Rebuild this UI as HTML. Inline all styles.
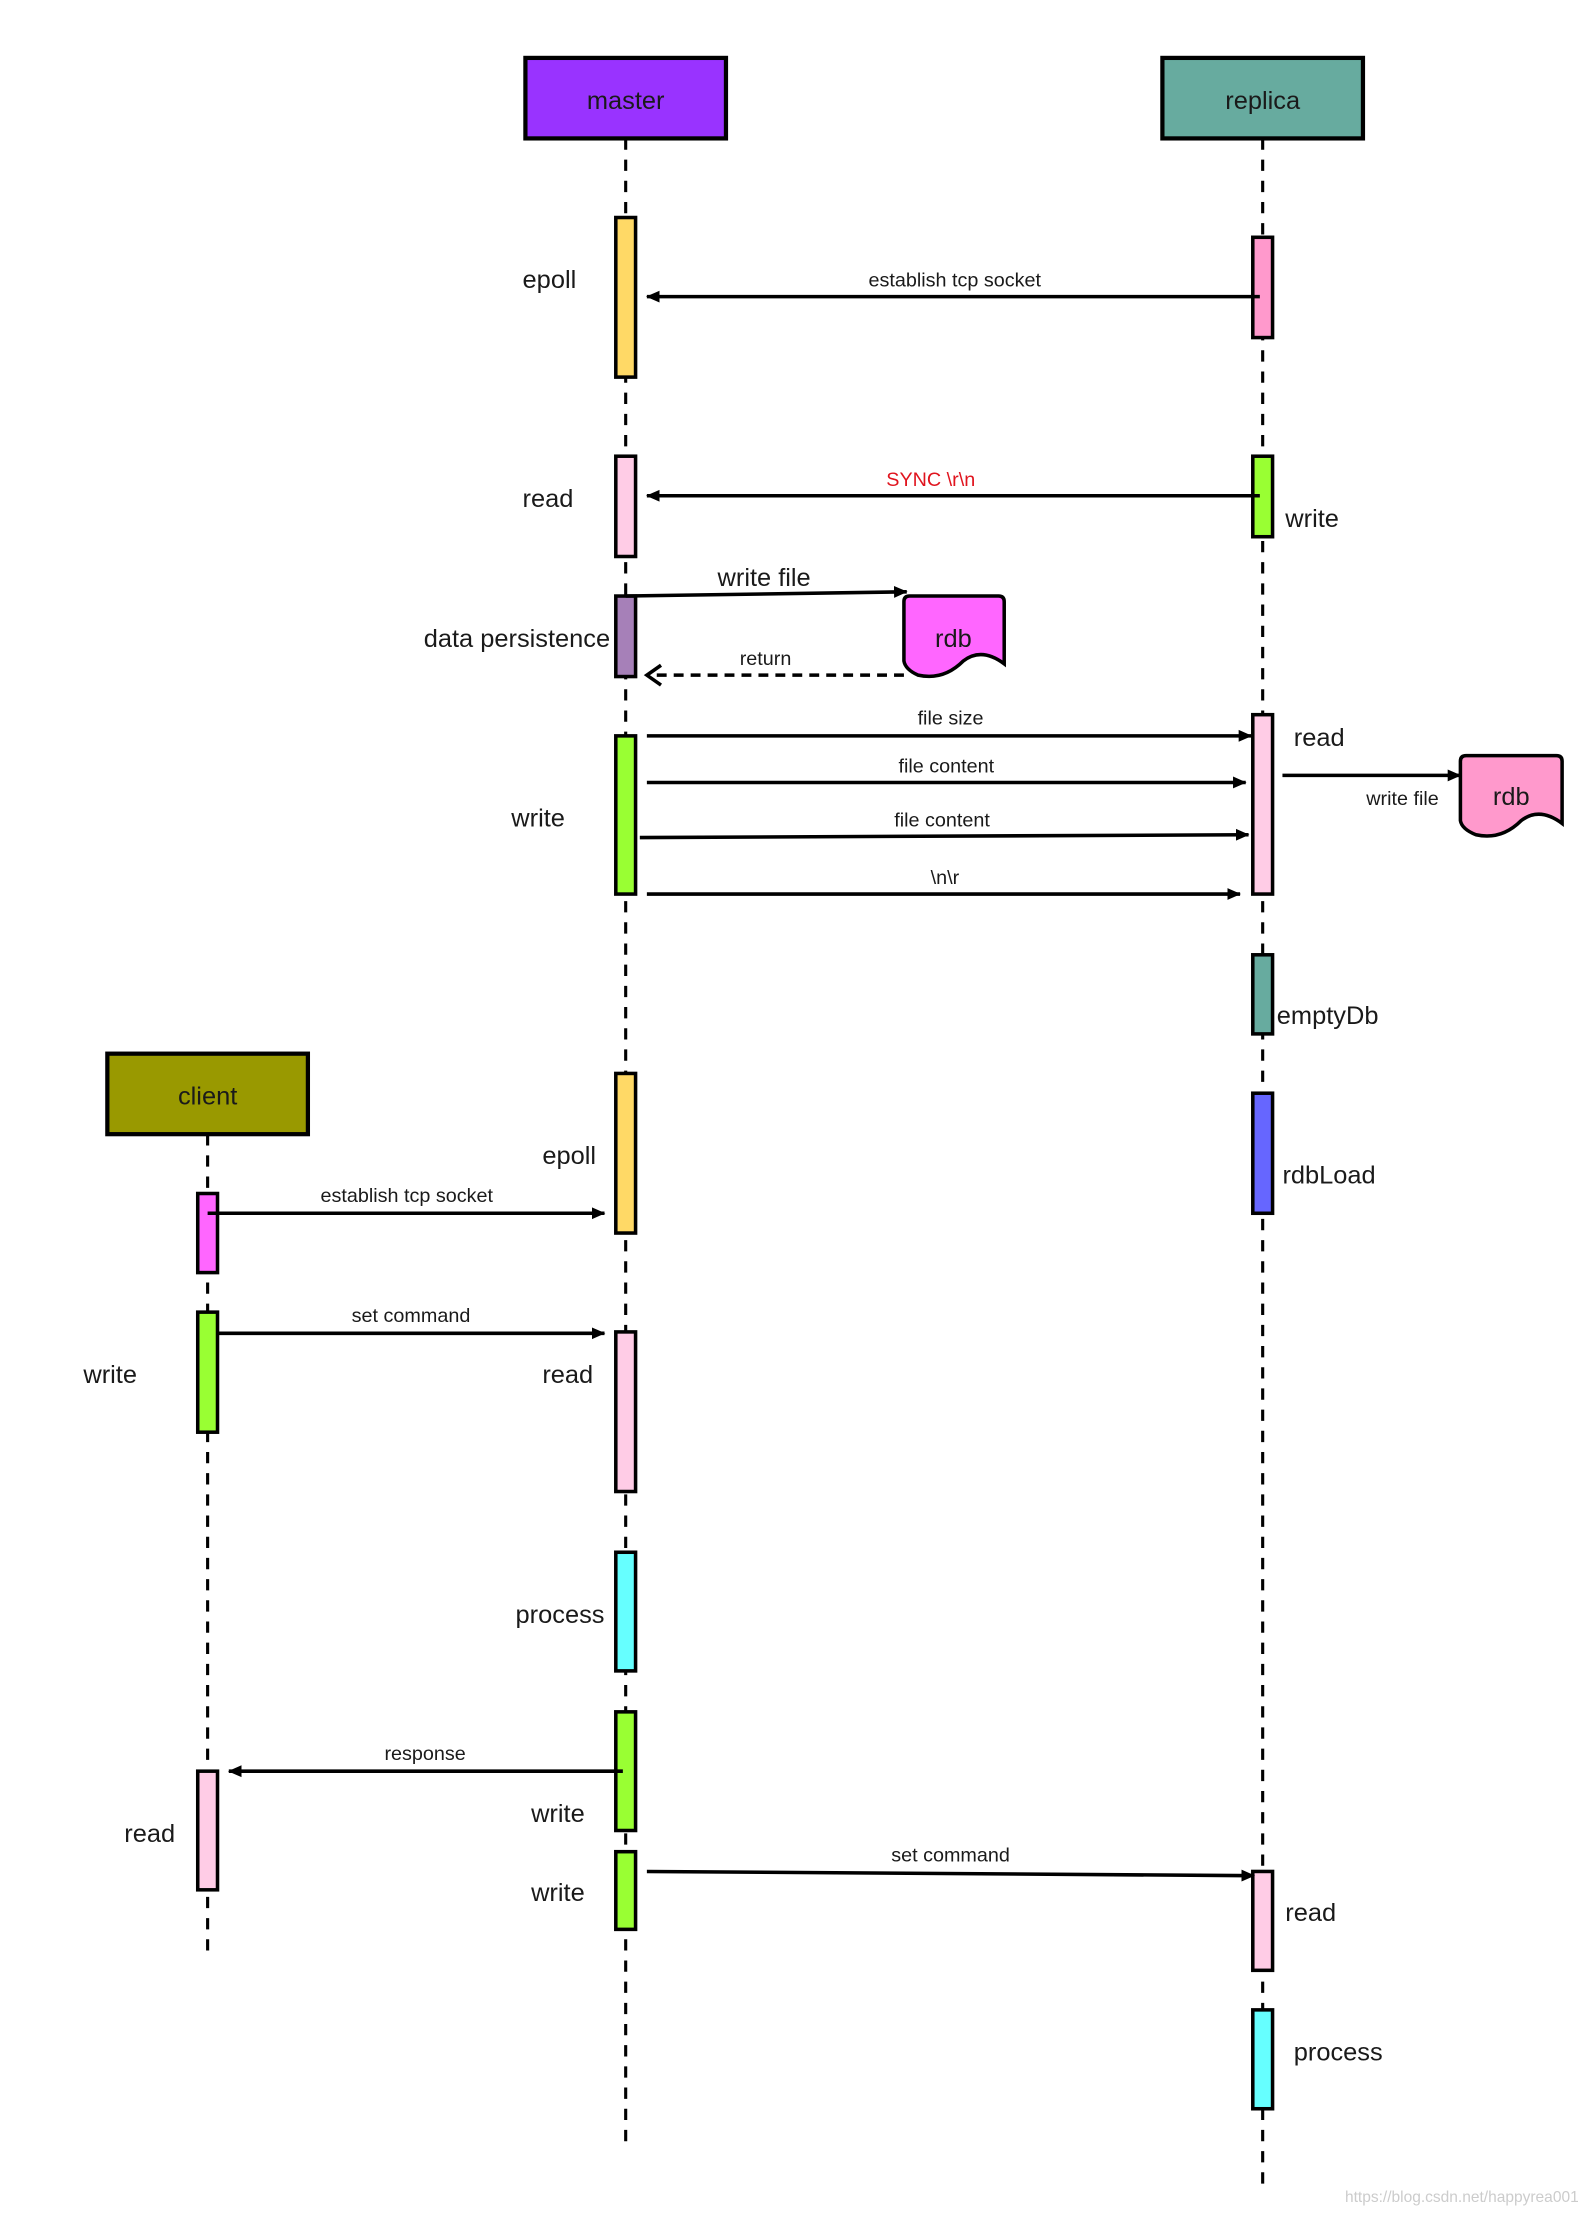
<!DOCTYPE html>
<html><head><meta charset="utf-8"><style>html,body{margin:0;padding:0;background:#fff}svg{display:block}</style></head>
<body>
<svg width="1596" height="2224" viewBox="0 0 1130 1574.6" preserveAspectRatio="none" xmlns="http://www.w3.org/2000/svg" font-family="Liberation Sans, sans-serif">
<defs>
<marker id="a" markerWidth="10" markerHeight="10" refX="9" refY="5" orient="auto" markerUnits="userSpaceOnUse"><path d="M0,-2 L16,5 L0,12 z" transform="scale(0.6) translate(0,3.3)" fill="#000"/></marker>
</defs>
<g stroke="#000" stroke-width="2.2" fill="none" stroke-dasharray="8,7">
<line x1="443" y1="98" x2="443" y2="1522"/>
<line x1="894" y1="98" x2="894" y2="1546"/>
<line x1="147" y1="803" x2="147" y2="1382"/>
</g>
<g stroke="#000" stroke-width="3">
<rect x="372" y="41" width="142" height="57" fill="#9933FF"/>
<rect x="823" y="41" width="142" height="57" fill="#67AB9F"/>
<rect x="76" y="746" width="142" height="57" fill="#999900"/>
</g>
<g font-size="18" text-anchor="middle" fill="#1a1a1a">
<text x="443" y="77">master</text>
<text x="894" y="77">replica</text>
<text x="147" y="782">client</text>
</g>
<g stroke="#000" stroke-width="2.5">
<rect x="436" y="154" width="14" height="113" fill="#FFD966"/>
<rect x="436" y="323" width="14" height="71" fill="#FFCCE6"/>
<rect x="436" y="422" width="14" height="57" fill="#A680B8"/>
<rect x="436" y="521" width="14" height="112" fill="#99FF33"/>
<rect x="436" y="760" width="14" height="113" fill="#FFD966"/>
<rect x="436" y="943" width="14" height="113" fill="#FFCCE6"/>
<rect x="436" y="1099" width="14" height="84" fill="#66FFFF"/>
<rect x="436" y="1212" width="14" height="84" fill="#99FF33"/>
<rect x="436" y="1311" width="14" height="55" fill="#99FF33"/>
<rect x="887" y="168" width="14" height="71" fill="#FF99CC"/>
<rect x="887" y="323" width="14" height="57" fill="#99FF33"/>
<rect x="887" y="506" width="14" height="127" fill="#FFCCE6"/>
<rect x="887" y="676" width="14" height="56" fill="#67AB9F"/>
<rect x="887" y="774" width="14" height="85" fill="#6666FF"/>
<rect x="887" y="1325" width="14" height="70" fill="#FFCCE6"/>
<rect x="887" y="1423" width="14" height="70" fill="#66FFFF"/>
<rect x="140" y="845" width="14" height="56" fill="#FF66FF"/>
<rect x="140" y="929" width="14" height="85" fill="#99FF33"/>
<rect x="140" y="1254" width="14" height="84" fill="#FFCCE6"/>
<path d="M644,422 H707 Q711,422 711,426 V470 Q695,458 682,468 Q668,482 650,478 Q641,474 640,468 V426 Q640,422 644,422 Z" fill="#FF66FF"/>
<path d="M1038,535 H1102 Q1106,535 1106,539 V583 Q1090,571 1077,581 Q1063,595 1045,591 Q1035,587 1034,581 V539 Q1034,535 1038,535 Z" fill="#FF99CC"/>
</g>
<g stroke="#000" stroke-width="2.5" fill="none" marker-end="url(#a)">
<line x1="892" y1="210" x2="458" y2="210"/>
<line x1="892" y1="351" x2="458" y2="351"/>
<path d="M443,422 L642,419"/>
<line x1="458" y1="521" x2="886" y2="521"/>
<line x1="458" y1="554" x2="882" y2="554"/>
<line x1="453" y1="593" x2="884" y2="591"/>
<line x1="458" y1="633" x2="878" y2="633"/>
<line x1="908" y1="549" x2="1034" y2="549"/>
<line x1="147" y1="859" x2="428" y2="859"/>
<line x1="154" y1="944" x2="428" y2="944"/>
<line x1="441" y1="1254" x2="162" y2="1254"/>
<line x1="458" y1="1325" x2="888" y2="1328"/>
</g>
<line x1="640" y1="478" x2="460" y2="478" stroke="#000" stroke-width="2.5" stroke-dasharray="7,5"/>
<path d="M468,471 L458,478 L468,485" stroke="#000" stroke-width="2.5" fill="none"/>
<g font-size="14" text-anchor="middle" fill="#1a1a1a">
<text x="676" y="203">establish tcp socket</text>
<text x="659" y="344" fill="#E0141E">SYNC \r\n</text>
<text x="542" y="471">return</text>
<text x="673" y="513">file size</text>
<text x="670" y="547">file content</text>
<text x="667" y="585">file content</text>
<text x="669" y="626">\n\r</text>
<text x="993" y="570">write file</text>
<text x="288" y="851">establish tcp socket</text>
<text x="291" y="936">set command</text>
<text x="301" y="1246">response</text>
<text x="673" y="1318">set command</text>
</g>
<g font-size="18" fill="#1a1a1a">
<g text-anchor="end">
<text x="408" y="204">epoll</text>
<text x="406" y="359">read</text>
<text x="432" y="458">data persistence</text>
<text x="400" y="585">write</text>
<text x="422" y="824">epoll</text>
<text x="420" y="979">read</text>
<text x="428" y="1149">process</text>
<text x="414" y="1290">write</text>
<text x="414" y="1346">write</text>
<text x="97" y="979">write</text>
<text x="124" y="1304">read</text>
</g>
<text x="910" y="373">write</text>
<text x="916" y="528">read</text>
<text x="904" y="725">emptyDb</text>
<text x="908" y="838">rdbLoad</text>
<text x="910" y="1360">read</text>
<text x="916" y="1459">process</text>
<text x="541" y="415" text-anchor="middle">write file</text>
<text x="675" y="458" text-anchor="middle">rdb</text>
<text x="1070" y="570" text-anchor="middle">rdb</text>
</g>
<text x="1035" y="1559" font-size="11" fill="#ccc" text-anchor="middle">https://blog.csdn.net/happyrea001</text>
</svg>
</body></html>
